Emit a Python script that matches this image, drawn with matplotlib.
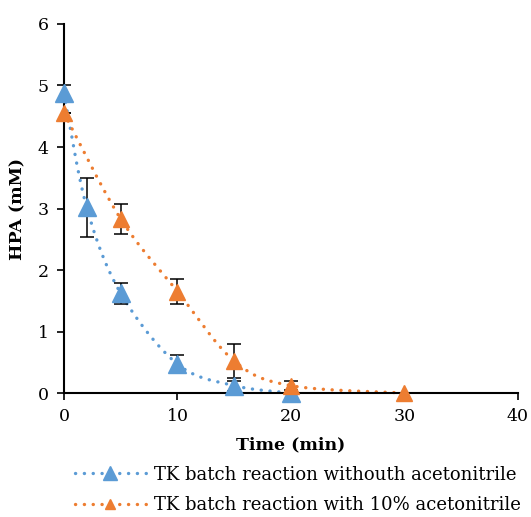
import numpy as np
import matplotlib
matplotlib.use("Agg")
import matplotlib.pyplot as plt
from matplotlib.lines import Line2D

plt.rcParams['font.family'] = ['DejaVu Serif']

# HPA consumption over time, mean +/- error
t_no_acn = [0, 2, 5, 10, 15, 20]
hpa_no_acn = [4.87, 3.02, 1.62, 0.47, 0.12, 0.0]
err_no_acn = [0.13, 0.48, 0.17, 0.15, 0.08, 0.0]

t_acn = [0, 5, 10, 15, 20, 30]
hpa_acn = [4.55, 2.83, 1.65, 0.52, 0.12, 0.0]
err_acn = [0.0, 0.24, 0.21, 0.27, 0.07, 0.0]

labels = ["TK batch reaction withouth acetonitrile",
          "TK batch reaction with 10% acetonitrile"]
blue = "#5B9BD5"
orange = "#ED7D31"


def smooth(x, y, sx, sy, n=40):
    # Bezier smoothing (Catmull-Rom style) in scaled screen units
    p = np.column_stack([np.asarray(x) * sx, np.asarray(y) * sy])
    out = []
    for i in range(len(p) - 1):
        p0 = p[i - 1] if i > 0 else p[i]
        p1, p2 = p[i], p[i + 1]
        p3 = p[i + 2] if i + 2 < len(p) else p[i + 1]
        c1 = p1 + (p2 - p0) / 6.0
        c2 = p2 - (p3 - p1) / 6.0
        s = np.linspace(0, 1, n)[:, None]
        seg = ((1 - s) ** 3) * p1 + 3 * ((1 - s) ** 2) * s * c1 + 3 * (1 - s) * s ** 2 * c2 + s ** 3 * p2
        out.append(seg if i == 0 else seg[1:])
    out = np.vstack(out)
    return out[:, 0] / sx, out[:, 1] / sy


fig = plt.figure(figsize=(5.31, 5.17), dpi=100)
ax = fig.add_axes([0.1205, 0.2398, 0.855, 0.7138])

dots = dict(linestyle=(0, (0.05, 2.6)), dash_capstyle='round', lw=2.4)
for t, h, e, c, ms in [(t_no_acn, hpa_no_acn, err_no_acn, blue, 13),
                       (t_acn, hpa_acn, err_acn, orange, 11)]:
    xs, ys = smooth(t, h, 454 / 40, 369 / 6)
    ax.plot(xs, ys, color=c, zorder=2, clip_on=False, **dots)
    ax.errorbar(t, h, yerr=e, fmt='none', ecolor='black', elinewidth=1.1,
                capsize=5, capthick=1.1, zorder=3)
    ax.plot(t, h, linestyle='none', marker='^', ms=ms, color=c, zorder=4,
            clip_on=False)

ax.set_xlim(0, 40)
ax.set_ylim(0, 6)
ax.set_xticks([0, 10, 20, 30, 40])
ax.set_yticks(range(7))
for s in ['top', 'right']:
    ax.spines[s].set_visible(False)
for s in ['left', 'bottom']:
    ax.spines[s].set_linewidth(1.5)
ax.tick_params(direction='out', length=5, width=1.2, labelsize=12.5, pad=6)
ax.set_xlabel("Time (min)", fontsize=12.5, fontweight='bold', labelpad=8)
ax.set_ylabel("HPA (mM)", fontsize=12.5, fontweight='bold', labelpad=8)

handles = [Line2D([], [], color=blue, marker='^', ms=9.5, **dots),
           Line2D([], [], color=orange, marker='^', ms=7, **dots)]
fig.legend(handles, labels, loc='center', bbox_to_anchor=(0.561, 0.052),
           frameon=False, fontsize=13, handlelength=3.9, handletextpad=0.45,
           labelspacing=0.7, borderpad=0)

fig.savefig("out.png", dpi=100)
